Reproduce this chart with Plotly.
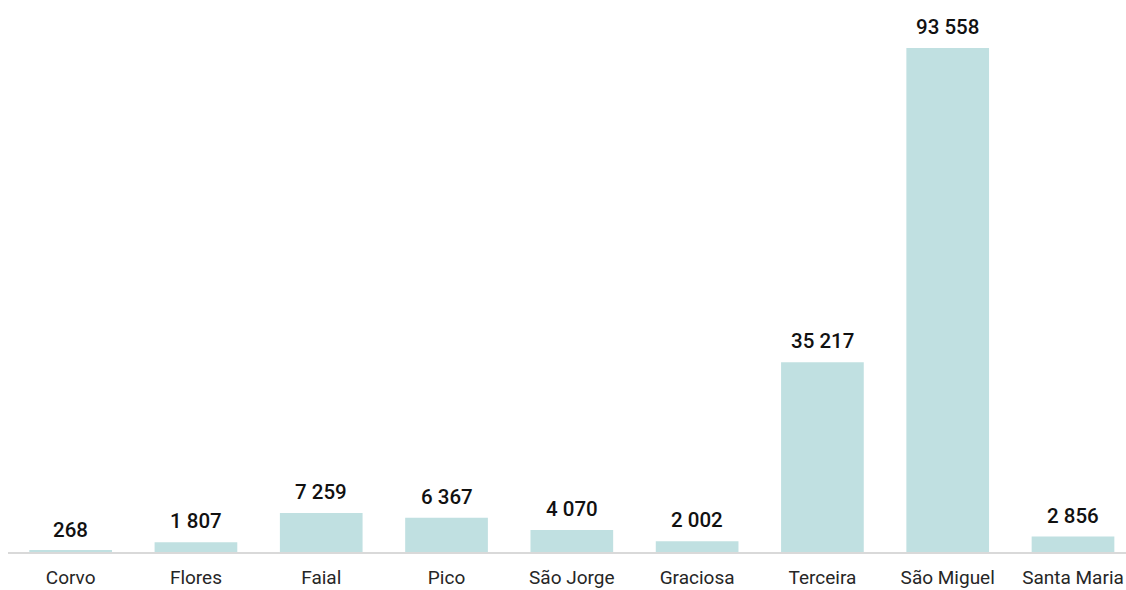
import plotly.graph_objects as go

# Islands and their values
islands = ["Corvo", "Flores", "Faial", "Pico", "São Jorge", "Graciosa",
           "Terceira", "São Miguel", "Santa Maria"]
values = [268, 1807, 7259, 6367, 4070, 2002, 35217, 93558, 2856]


def fmt(v):
    # thousands separated by a space
    return f"{v:,}".replace(",", " ")


fig = go.Figure()
fig.add_trace(go.Bar(
    x=islands,
    y=values,
    marker=dict(color="#c0e0e1", line=dict(width=0)),
    hoverinfo="x+y",
))

for name, v in zip(islands, values):
    fig.add_annotation(
        x=name, y=v, text=fmt(v), showarrow=False,
        yanchor="bottom", yshift=7,
        font=dict(family="Roboto", size=20.5, color="#111111", weight=500),
    )

fig.update_layout(
    width=1126, height=590,
    margin=dict(l=8, r=0, t=0, b=38, autoexpand=False),
    paper_bgcolor="white", plot_bgcolor="white",
    bargap=0.34,
    showlegend=False,
    xaxis=dict(
        range=[-0.5, 8.423],
        automargin=False,
        showline=True, linecolor="#d9d9d9", linewidth=2,
        showgrid=False, zeroline=False,
        ticks="", ticklabelstandoff=7,
        tickfont=dict(family="Roboto", size=19, color="#262626"),
    ),
    yaxis=dict(
        range=[0, 102470],
        automargin=False,
        visible=False, showgrid=False, zeroline=False,
    ),
)

fig.write_html("out.html")
